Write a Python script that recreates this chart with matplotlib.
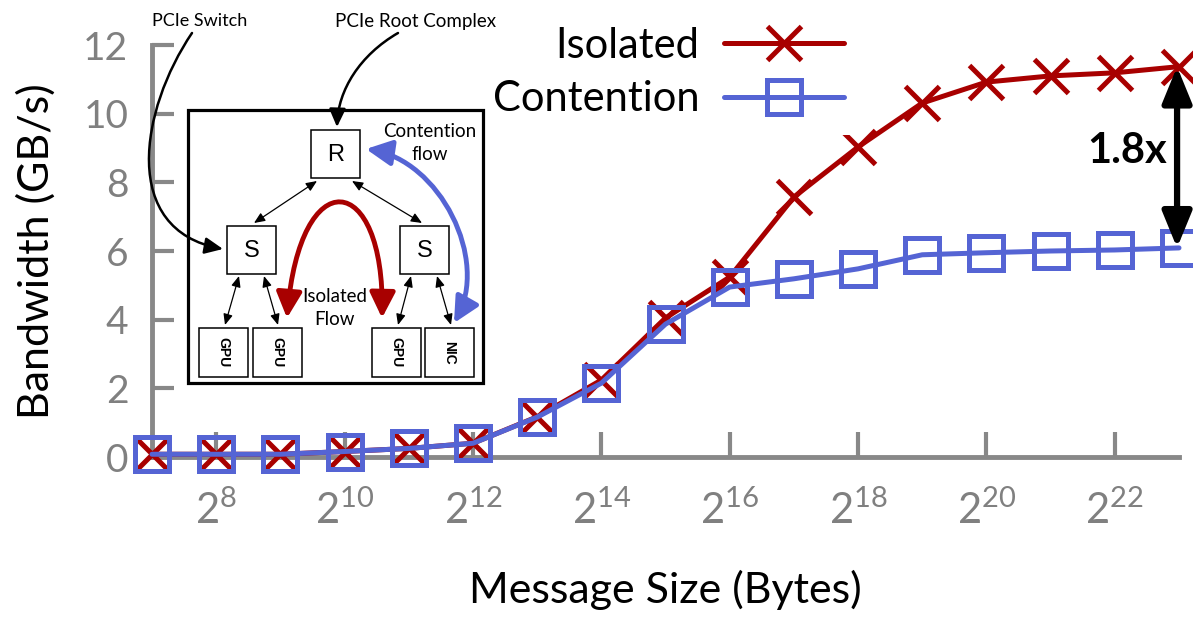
import matplotlib
matplotlib.use("Agg")
import matplotlib.pyplot as plt
from matplotlib.patches import Rectangle, FancyArrowPatch
from matplotlib.path import Path

# ---------------------------
# Data
# ---------------------------
exponents = [7, 8, 9, 10, 11, 12, 13, 14, 15, 16, 17, 18, 19, 20, 21, 22, 23]
msg_size = [2 ** e for e in exponents]
isolated = [0.08, 0.08, 0.08, 0.16, 0.25, 0.40, 1.17, 2.24, 4.05, 5.24,
            7.57, 9.03, 10.31, 10.92, 11.10, 11.19, 11.37]
contention = [0.08, 0.08, 0.08, 0.16, 0.25, 0.40, 1.16, 2.15, 3.87, 4.95,
              5.19, 5.48, 5.89, 5.95, 6.00, 6.03, 6.09]
xtick_exp = [8, 10, 12, 14, 16, 18, 20, 22]
yticks = [0, 2, 4, 6, 8, 10, 12]

RED = "#a80000"
BLUE = "#5564d4"
GRAY = "#888888"

plt.rcParams["font.family"] = ["Lato", "DejaVu Sans"]
plt.rcParams["mathtext.fontset"] = "custom"
plt.rcParams["mathtext.rm"] = "Lato"
plt.rcParams["mathtext.default"] = "regular"
plt.rcParams["lines.dash_capstyle"] = "round"

W, H = 1193, 622
fig = plt.figure(figsize=(W / 100, H / 100), dpi=100)
ax = fig.add_axes([152 / W, 1 - 457 / H, (1179 - 152) / W, (457 - 45) / H])

# ---------------------------
# Main plot
# ---------------------------
ax.plot(msg_size, contention, color=BLUE, lw=3.6, marker="s", ms=25,
        mew=3.6, mfc="none", mec=BLUE, label="Contention", zorder=4,
        clip_on=False, solid_capstyle="round")
ax.plot(msg_size, isolated, color=RED, lw=3.6, marker="x", ms=24,
        mew=3.6, mec=RED, label="Isolated", zorder=3,
        clip_on=False, solid_capstyle="round")

ax.set_xscale("log", base=2)
ax.set_xlim(2 ** 7, 2 ** 23)
ax.set_ylim(0, 12)
ax.set_xticks([2 ** e for e in xtick_exp])
ax.set_xticklabels(["$2^{%d}$" % e for e in xtick_exp])
ax.xaxis.set_minor_locator(matplotlib.ticker.NullLocator())
ax.set_yticks(yticks)

ax.grid(True, color=GRAY, lw=3.2, linestyle=(0, (0, 2.8)))
ax.set_axisbelow(True)

for s in ["top", "right"]:
    ax.spines[s].set_visible(False)
for s in ["left", "bottom"]:
    ax.spines[s].set_color(GRAY)
    ax.spines[s].set_linewidth(3.5)

ax.tick_params(axis="x", direction="in", length=18, width=3, color=GRAY,
               labelcolor="#808080", labelsize=30, pad=24)
ax.tick_params(axis="y", direction="in", length=16, width=3, color=GRAY,
               labelcolor="#808080", labelsize=28, pad=17)

ax.set_xlabel("Message Size (Bytes)", fontsize=31, labelpad=28)
ax.set_ylabel("Bandwidth (GB/s)", fontsize=31, labelpad=20)

handles, labels = ax.get_legend_handles_labels()
leg = ax.legend(handles[::-1], labels[::-1], loc="upper right",
                bbox_to_anchor=(861 / W, 1 - 10 / H), bbox_transform=fig.transFigure,
                fontsize=30, markerfirst=False, handlelength=2.9,
                handletextpad=0.58, labelspacing=0.37, borderpad=0.4,
                borderaxespad=0, numpoints=1, frameon=True, fancybox=False,
                framealpha=1, facecolor="white", edgecolor="none")
leg.set_zorder(6)

# 1.8x gap arrow
ax.annotate("", xy=(2 ** 22.97, isolated[-1]), xytext=(2 ** 22.97, contention[-1]),
            arrowprops=dict(arrowstyle="<|-|>,head_length=1.1,head_width=0.45",
                            color="black", lw=4.5, shrinkA=0, shrinkB=0,
                            mutation_scale=20), zorder=7)
ax.text(2 ** 22.81, 8.9, "1.8x", fontsize=30, fontweight="bold",
        ha="right", va="center", zorder=7)

# ---------------------------
# Inset diagram (pixel coordinates)
# ---------------------------
ov = fig.add_axes([0, 0, 1, 1], zorder=5)
ov.set_xlim(0, W)
ov.set_ylim(H, 0)
ov.axis("off")
ov.patch.set_alpha(0)

ov.add_patch(Rectangle((188, 110), 295, 273, lw=2.3, ec="black",
                       fc=(1, 1, 1, 0.72)))

boxes = [(311, 130, 49, 48, "R"), (227, 226, 49, 48, "S"), (400, 226, 49, 48, "S")]
for bx, by, bw, bh, t in boxes:
    ov.add_patch(Rectangle((bx, by), bw, bh, lw=1.1, ec="black", fc="white"))
    ov.text(bx + bw / 2, by + bh / 2 + 1, t, fontsize=17, ha="center",
            va="center", family="Liberation Sans")

leaves = [(199, "GPU"), (253, "GPU"), (372, "GPU"), (425, "NIC")]
for bx, t in leaves:
    ov.add_patch(Rectangle((bx, 328), 49, 49, lw=1.1, ec="black", fc="white"))
    ov.text(bx + 24.5, 352.5, t, fontsize=10, fontweight="bold", rotation=-90,
            ha="center", va="center", family="Liberation Sans")

links = [((317, 181), (254, 223)), ((352, 181), (422, 223)),
         ((239, 276), (225, 325)), ((264, 276), (278, 325)),
         ((411, 276), (398, 325)), ((437, 276), (451, 325))]
for a, b in links:
    ov.add_patch(FancyArrowPatch(a, b, arrowstyle="<|-|>,head_length=0.65,head_width=0.28",
                                 mutation_scale=10, lw=0.9, color="black",
                                 shrinkA=0, shrinkB=0))

curve = [Path.MOVETO, Path.CURVE4, Path.CURVE4, Path.CURVE4]
# isolated flow arch
ov.add_patch(FancyArrowPatch(path=Path([(287, 318), (300, 160), (385, 170), (382, 318)], curve),
                             arrowstyle="<|-|>,head_length=1.4,head_width=0.7",
                             mutation_scale=11, lw=3.5, color=RED))
# contention flow arc
ov.add_patch(FancyArrowPatch(path=Path([(454, 323), (490, 260), (440, 160), (366, 149)], curve),
                             arrowstyle="<|-|>,head_length=1.4,head_width=0.7",
                             mutation_scale=11, lw=3.5, color=BLUE))
# callout arrows
ov.add_patch(FancyArrowPatch(path=Path([(192, 33), (140, 110), (120, 230), (223, 249)], curve),
                             arrowstyle="-|>,head_length=1.1,head_width=0.5",
                             mutation_scale=10, lw=1.8, color="black"))
ov.add_patch(FancyArrowPatch(path=Path([(398, 33), (360, 55), (338, 90), (337, 127)], curve),
                             arrowstyle="-|>,head_length=1.1,head_width=0.5",
                             mutation_scale=10, lw=1.8, color="black"))

ov.text(200, 21, "PCIe Switch", fontsize=13, ha="center", va="center")
ov.text(416, 21, "PCIe Root Complex", fontsize=13.5, ha="center", va="center")
ov.text(430, 143, "Contention\nflow", fontsize=13.5, ha="center", va="center",
        linespacing=1.4)
ov.text(335, 308, "Isolated\nFlow", fontsize=13.5, ha="center", va="center",
        linespacing=1.4)

fig.savefig("out.png", dpi=100)
